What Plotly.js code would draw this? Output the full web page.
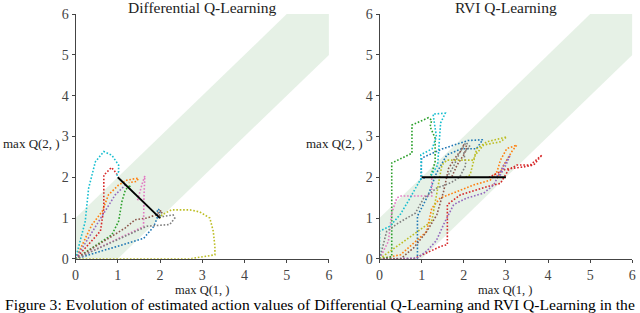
<!DOCTYPE html>
<html>
<head>
<meta charset="utf-8">
<script src="https://cdn.plot.ly/plotly-3.0.1.min.js"></script>
<style>html,body{margin:0;padding:0;background:#fff;}#chart{width:640px;height:313px;}</style>
</head>
<body>
<div id="chart"></div>
<script>
// ---------- Data ----------
const colors = ['#1f77b4','#ff7f0e','#2ca02c','#d62728','#9467bd','#8c564b','#e377c2','#7f7f7f','#bcbd22','#17becf'];
const tickVals = [0,1,2,3,4,5,6];
const bandX = [0,0,5,6,6,1,0];
const bandY = [0,1,6,6,5,0,0];

// Differential Q-Learning trajectories (x = max Q(1,.), y = max Q(2,.))
const dBlueX   = [0,1.61,1.85,1.93,1.94,1.99,2.0];
const dBlueY   = [0,0.5,0.79,0.99,1.22,1.2,1.03];
const dOrangeX = [0,0.39,0.63,0.78,1.02,1.22,1.49,1.45,1.26];
const dOrangeY = [0,0.84,1.16,1.57,1.81,1.93,1.98,1.9,1.87];
const dGreenX  = [0,0.86,1.02,1.1,1.18,1.3,1.28];
const dGreenY  = [0,0.59,0.92,1.41,1.69,1.81,1.76];
const dRedX    = [0,0.59,0.67,0.67,0.72,0.85,0.92,0.98];
const dRedY    = [0,0.68,1.24,2.06,2.1,2.24,2.16,2.07];
const dPurpleX = [0,0.7,0.94,1.18,1.2];
const dPurpleY = [0,1.16,1.57,1.81,1.78];
const dBrownX  = [0,1.18,1.41,1.68,1.92,2.0,2.06,1.95];
const dBrownY  = [0,0.76,0.96,1.0,1.08,1.18,1.15,1.04];
const dPinkX   = [0,1.61,1.62,1.64,1.58,1.5,1.46];
const dPinkY   = [0,0.79,1.5,2.03,1.85,1.55,1.4];
const dGrayX   = [0,1.34,1.69,2.23,2.35,2.31,2.08,1.97];
const dGrayY   = [0,0.63,0.8,0.84,1.0,1.08,1.04,1.0];
const dOliveX  = [0,1.5,2.71,3.3,3.3,3.26,3.18,2.94,2.71,2.27,2.05,2.0];
const dOliveY  = [0,0,0.0,0.1,0.3,0.68,1.0,1.15,1.2,1.2,1.08,1.0];
const dCyanX   = [0,0.23,0.31,0.47,0.67,0.86,1.02,1.02,0.97];
const dCyanY   = [0,0.92,1.73,2.38,2.63,2.54,2.3,2.14,2.02];
const dSolutionX = [1,2];
const dSolutionY = [2,1];

// RVI Q-Learning trajectories
const rBlueX   = [0,0.9,0.9,1.15,1.35,1.6,1.95,2.3,2.45,2.1,1.5,1.0,0.98,1.1];
const rBlueY   = [0,0,1.05,1.55,2.1,2.55,2.7,2.7,2.92,2.9,2.7,2.47,1.95,2.0];
const rOrangeX = [0,0.5,1.12,1.24,1.44,1.84,2.23,2.63,2.79,2.87,3.02,3.26,3.14,2.95,2.79];
const rOrangeY = [0,0.1,0.67,1.24,1.49,1.65,1.81,1.93,2.14,2.42,2.7,2.79,2.63,2.3,1.98];
const rGreenX  = [0,0.29,0.29,0.77,0.77,1.16,1.24,1.2,1.32,1.32,1.24,1.2];
const rGreenY  = [0,0.05,2.35,2.59,3.28,3.46,3.4,3.24,2.96,2.39,2.1,2.0];
const rRedX    = [0,0.81,1.44,1.61,1.61,1.92,2.55,2.87,3.06,3.26,3.58,3.82,3.86,3.66,3.4,3.0,2.7,2.6];
const rRedY    = [0,0,0.3,0.35,1.33,1.57,1.77,1.85,2.18,2.3,2.3,2.5,2.55,2.3,2.25,2.2,2.05,2.0];
const rPurpleX = [0,0.89,1.12,1.35,1.52,1.76,2.07,2.47,2.71,2.95,3.1,3.0,2.87,2.67];
const rPurpleY = [0,0.02,0.19,0.45,0.84,1.33,1.49,1.61,1.81,2.3,2.54,2.3,2.06,1.98];
const rBrownX  = [0,0.5,0.81,1.12,1.36,1.52,1.64,1.84,1.92,2.0,2.08,2.0,1.84,1.72];
const rBrownY  = [0,0.0,0.27,0.67,1.08,1.65,2.22,2.54,2.63,2.79,2.75,2.55,2.3,2.02];
const rPinkX   = [0,0.21,0.29,0.41,0.49,1.24,1.24,1.2];
const rPinkY   = [0,0.43,1.12,1.49,1.54,1.54,1.98,2.0];
const rGrayX   = [0,0.17,0.45,0.85,1.05,1.35,1.7,1.9,2.05,2.0,2.15,2.05,1.9,1.75,1.6];
const rGrayY   = [0,0.67,0.88,1.12,1.49,1.73,1.87,2.0,2.3,2.6,2.75,2.85,2.6,2.25,2.0];
const rOliveX  = [0,0.65,0.97,1.24,1.36,1.48,1.6,2.23,2.31,2.55,3.02,2.87,2.47,2.27,2.15,2.0];
const rOliveY  = [0,0.47,0.72,0.92,1.61,2.3,2.42,2.42,2.7,2.87,2.99,2.87,2.79,2.54,2.06,1.98];
const rCyanX   = [0,0,0.25,0.5,0.73,0.96,1.0,0.98,1.25,1.35,1.3,1.27,1.56,1.45,1.42,1.38,1.2];
const rCyanY   = [0,0.68,0.8,1.1,1.5,1.9,2.0,2.55,2.7,3.0,3.3,3.55,3.57,3.33,2.9,2.3,2.0];
const rSolutionX = [1,3];
const rSolutionY = [2,2];

const diffSeries = [[dBlueX,dBlueY],[dOrangeX,dOrangeY],[dGreenX,dGreenY],[dRedX,dRedY],[dPurpleX,dPurpleY],[dBrownX,dBrownY],[dPinkX,dPinkY],[dGrayX,dGrayY],[dOliveX,dOliveY],[dCyanX,dCyanY]];
const rviSeries  = [[rBlueX,rBlueY],[rOrangeX,rOrangeY],[rGreenX,rGreenY],[rRedX,rRedY],[rPurpleX,rPurpleY],[rBrownX,rBrownY],[rPinkX,rPinkY],[rGrayX,rGrayY],[rOliveX,rOliveY],[rCyanX,rCyanY]];

// ---------- Traces ----------
const traces = [];
[['x','y',diffSeries,dSolutionX,dSolutionY],['x2','y2',rviSeries,rSolutionX,rSolutionY]].forEach(([xa,ya,series,sx,sy])=>{
  traces.push({x:bandX,y:bandY,xaxis:xa,yaxis:ya,type:'scatter',mode:'lines',fill:'toself',
    fillcolor:'rgba(60,150,60,0.13)',line:{width:0},hoverinfo:'skip',showlegend:false});
  series.forEach((s,i)=>{
    traces.push({x:s[0],y:s[1],xaxis:xa,yaxis:ya,type:'scatter',mode:'lines',
      line:{color:colors[i],width:1.6,dash:'1.6px,1.8px'},showlegend:false});
  });
  traces.push({x:sx,y:sy,xaxis:xa,yaxis:ya,type:'scatter',mode:'lines',
    line:{color:'#000',width:1.8},showlegend:false});
});

const serif = 'Liberation Serif';
function axis(domain, anchor){
  return {domain:domain, anchor:anchor, range:[0,6], tickvals:tickVals, ticktext:tickVals.map(String),
    showgrid:false, zeroline:false, showline:true, linecolor:'#444', linewidth:1,
    ticks:'outside', ticklen:3, tickcolor:'#444',
    tickfont:{family:serif,size:14,color:'#444'}};
}
const layout = {
  width:640, height:313, margin:{l:0,r:0,t:0,b:0}, paper_bgcolor:'#fff', plot_bgcolor:'#fff',
  showlegend:false, font:{family:serif},
  xaxis: axis([0.118,0.514],'y'),
  yaxis: axis([0.173,0.955],'x'),
  xaxis2: axis([0.593,0.988],'y2'),
  yaxis2: axis([0.173,0.955],'x2'),
  annotations:[
    {text:'Differential Q-Learning',xref:'paper',yref:'paper',x:0.316,y:0.975,xanchor:'center',yanchor:'middle',showarrow:false,font:{family:serif,size:15.5,color:'#222'}},
    {text:'RVI Q-Learning',xref:'paper',yref:'paper',x:0.79,y:0.975,xanchor:'center',yanchor:'middle',showarrow:false,font:{family:serif,size:15.5,color:'#222'}},
    {text:'max Q(2, )',xref:'paper',yref:'paper',x:0.097,y:0.54,xanchor:'right',yanchor:'middle',showarrow:false,font:{family:serif,size:13,color:'#222'}},
    {text:'max Q(2, )',xref:'paper',yref:'paper',x:0.571,y:0.54,xanchor:'right',yanchor:'middle',showarrow:false,font:{family:serif,size:13,color:'#222'}},
    {text:'max Q(1, )',xref:'paper',yref:'paper',x:0.316,y:0.074,xanchor:'center',yanchor:'middle',showarrow:false,font:{family:serif,size:12.5,color:'#222'}},
    {text:'max Q(1, )',xref:'paper',yref:'paper',x:0.79,y:0.074,xanchor:'center',yanchor:'middle',showarrow:false,font:{family:serif,size:12.5,color:'#222'}},
    {text:'Figure 3: Evolution of estimated action values of Differential Q-Learning and RVI Q-Learning in the',xref:'paper',yref:'paper',x:0.5,y:0.027,xanchor:'center',yanchor:'middle',showarrow:false,font:{family:serif,size:15.6,color:'#000'}}
  ]
};
Plotly.newPlot('chart', traces, layout, {staticPlot:true, displayModeBar:false});
</script>
</body>
</html>
